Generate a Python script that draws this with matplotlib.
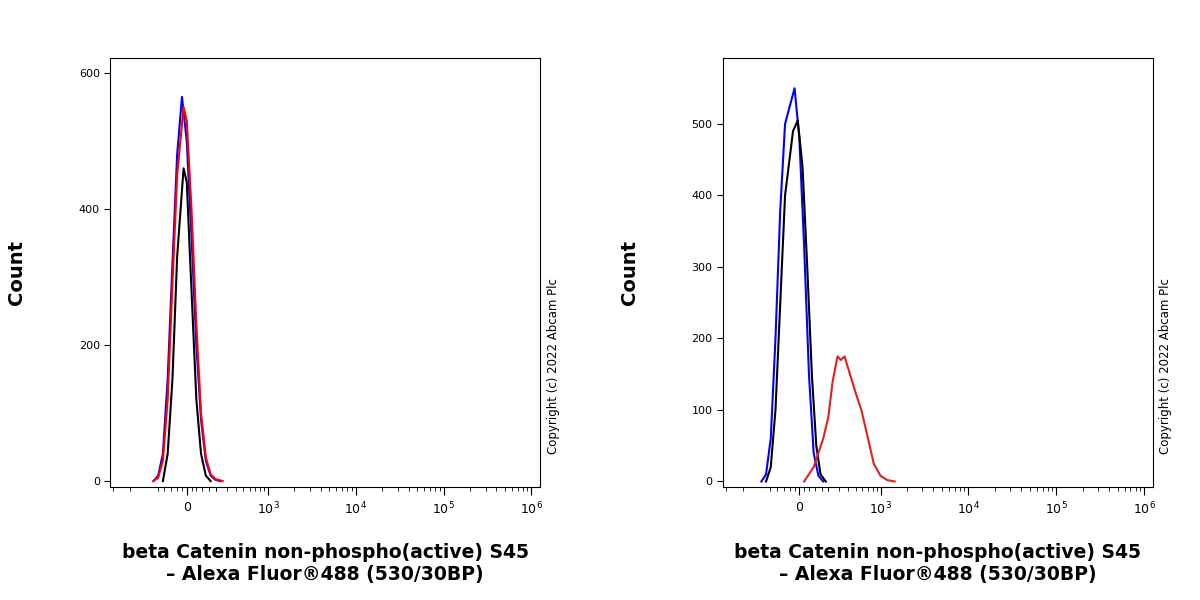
import matplotlib
matplotlib.use("Agg")
import matplotlib.pyplot as plt
import numpy as np

# Left panel data
L_blue_x = [-237,-197,-160,-125,-92,-61,-30,0,30,61,92,125,160,197,237]
L_blue_y = [0,8,40,150,320,480,565,500,360,200,90,30,8,2,0]
L_red_x = [-237,-197,-160,-125,-92,-61,-20,0,30,61,92,125,160,197,260]
L_red_y = [0,5,30,120,290,450,550,530,400,230,100,35,10,3,0]
L_black_x = [-160,-125,-92,-61,-20,0,30,61,92,125,160]
L_black_y = [0,40,150,330,460,440,280,120,40,8,0]
# Right panel data
R_blue_x = [-280,-237,-197,-160,-125,-92,-30,0,30,61,92,125,160]
R_blue_y = [0,10,60,200,380,500,550,480,330,150,40,8,0]
R_black_x = [-237,-197,-160,-125,-92,-40,-10,20,50,80,110,140,180]
R_black_y = [0,20,100,250,400,490,505,440,300,150,50,10,0]
R_red_x = [30,92,160,200,237,282,315,355,420,510,585,705,825,990,1186,1450]
R_red_y = [0,20,60,90,140,175,170,175,150,120,100,60,25,8,2,0]

xticks = [0,1e3,1e4,1e5,1e6]
xticklabels = ["0", "$10^3$", "$10^4$", "$10^5$", "$10^6$"]
xlabel = "beta Catenin non-phospho(active) S45\n– Alexa Fluor®488 (530/30BP)"

fig = plt.figure(figsize=(12,6), dpi=100)

def setup(ax, ylim, yticks):
    ax.set_xscale('asinh', linear_width=240)
    ax.set_xlim(-870, 1.25e6)
    ax.set_ylim(*ylim)
    ax.set_yticks(yticks)
    ax.set_yticklabels([str(t) for t in yticks], fontsize=8)
    ax.set_xticks(xticks)
    ax.set_xticklabels(xticklabels, fontsize=9)
    minor = []
    for d in [1e2,1e3,1e4,1e5,1e6]:
        minor += [d*k for k in range(2,10)]
    minor += [-200,-150,-100,-60,-30,30,60,100,150,200,-500,-800]
    ax.set_xticks([m for m in minor if m < 1.25e6], minor=True)
    ax.tick_params(axis='x', which='major', length=6, direction='out', pad=4)
    ax.tick_params(axis='x', which='minor', length=3, direction='out')
    ax.tick_params(axis='y', length=4, direction='out')
    for s in ax.spines.values():
        s.set_linewidth(0.8)
    ax.set_ylabel("Count", fontsize=14, fontweight='bold', labelpad=38)
    ax.set_xlabel(xlabel, fontsize=13.5, fontweight='bold', labelpad=18)

ax1 = fig.add_axes([0.092,0.188,0.358,0.715])
ax1.plot(L_blue_x, L_blue_y, color='blue', lw=1.5)
ax1.plot(L_red_x, L_red_y, color='red', lw=1.5)
ax1.plot(L_black_x, L_black_y, color='black', lw=1.5)
setup(ax1, (-9,622), [0,200,400,600])
fig.text(0.461, 0.39, "Copyright (c) 2022 Abcam Plc", rotation=90, fontsize=8.5, ha='center', va='center')

ax2 = fig.add_axes([0.6025,0.188,0.358,0.715])
ax2.plot(R_blue_x, R_blue_y, color='blue', lw=1.5)
ax2.plot(R_black_x, R_black_y, color='black', lw=1.5)
ax2.plot(R_red_x, R_red_y, color='#e02020', lw=1.5)
setup(ax2, (-8,592), [0,100,200,300,400,500])
fig.text(0.971, 0.39, "Copyright (c) 2022 Abcam Plc", rotation=90, fontsize=8.5, ha='center', va='center')

fig.savefig("out.png", dpi=100)
